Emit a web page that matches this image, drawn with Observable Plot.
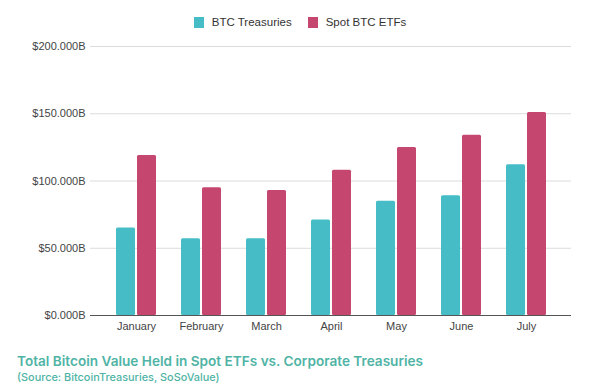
<!DOCTYPE html>
<html>
<head>
<meta charset="utf-8">
<script src="https://cdn.jsdelivr.net/npm/d3@7"></script>
<script src="https://cdn.jsdelivr.net/npm/@observablehq/plot@0.6"></script>
<style>
  html, body { margin: 0; padding: 0; background: #fff; }
  #wrap { position: relative; width: 600px; height: 388px; overflow: hidden; font-family: "Liberation Sans", Arial, sans-serif; }
  #legend { position: absolute; top: 0; left: 0; width: 600px; height: 36px; display: flex; justify-content: center; align-items: center; padding-top: 8px; box-sizing: border-box; font-size: 11.5px; color: #333; }
  .item { display: flex; align-items: center; margin: 0 8px; }
  .sw { width: 10px; height: 11px; margin-right: 8px; }
  #chart { position: absolute; top: 36px; left: 0; }
  #title { position: absolute; left: 17px; top: 353px; font-family: Inter, "Open Sans", sans-serif; font-weight: 600; font-size: 13.6px; color: #4fb4a5; white-space: nowrap; }
  #sub { position: absolute; left: 17px; top: 370px; font-family: Inter, "Open Sans", sans-serif; font-weight: 500; font-size: 10.9px; color: #4fb4a5; white-space: nowrap; }
</style>
</head>
<body>
<div id="wrap">
  <div id="legend"></div>
  <div id="chart"></div>
  <div id="title"></div>
  <div id="sub"></div>
</div>
<script>
const months = ["January", "February", "March", "April", "May", "June", "July"];
const treasuries = [65, 57, 57, 71, 85, 89, 112];
const etfs = [119, 95, 93, 108, 125, 134, 151];
const seriesNames = ["BTC Treasuries", "Spot BTC ETFs"];
const seriesColors = ["#46bdc6", "#c5476f"];
const yTicks = [0, 50, 100, 150, 200];
const titleText = "Total Bitcoin Value Held in Spot ETFs vs. Corporate Treasuries";
const subtitleText = "(Source: BitcoinTreasuries, SoSoValue)";

const tData = months.map((m, i) => ({month: m, value: treasuries[i]}));
const eData = months.map((m, i) => ({month: m, value: etfs[i]}));

const legend = document.getElementById("legend");
seriesNames.forEach((name, i) => {
  const it = document.createElement("div");
  it.className = "item";
  const sw = document.createElement("div");
  sw.className = "sw";
  sw.style.background = seriesColors[i];
  const tx = document.createElement("span");
  tx.textContent = name;
  it.appendChild(sw); it.appendChild(tx);
  legend.appendChild(it);
});

const chart = Plot.plot({
  width: 600,
  height: 301,
  marginTop: 10,
  marginLeft: 90,
  marginRight: 29,
  marginBottom: 22,
  style: {fontFamily: "'Liberation Sans', Arial, sans-serif", fontSize: "11px", color: "#444", background: "white"},
  x: {domain: months, paddingInner: 0.389, paddingOuter: 0.351, label: null, tickSize: 0, tickPadding: 7},
  y: {domain: [0, 200], ticks: yTicks, tickFormat: d => "$" + d3.format(".3f")(d) + "B", label: null, tickSize: 0, tickPadding: 5},
  marks: [
    Plot.ruleY(yTicks.slice(1), {stroke: "#dcdcdc", strokeWidth: 1}),
    Plot.barY(tData, {x: "month", y: "value", fill: seriesColors[0], insetRight: 21, rx: 1.5}),
    Plot.barY(eData, {x: "month", y: "value", fill: seriesColors[1], insetLeft: 21, rx: 1.5}),
    Plot.ruleY([0], {stroke: "#555", strokeWidth: 1})
  ]
});
document.getElementById("chart").appendChild(chart);
document.getElementById("title").textContent = titleText;
document.getElementById("sub").textContent = subtitleText;
</script>
</body>
</html>
